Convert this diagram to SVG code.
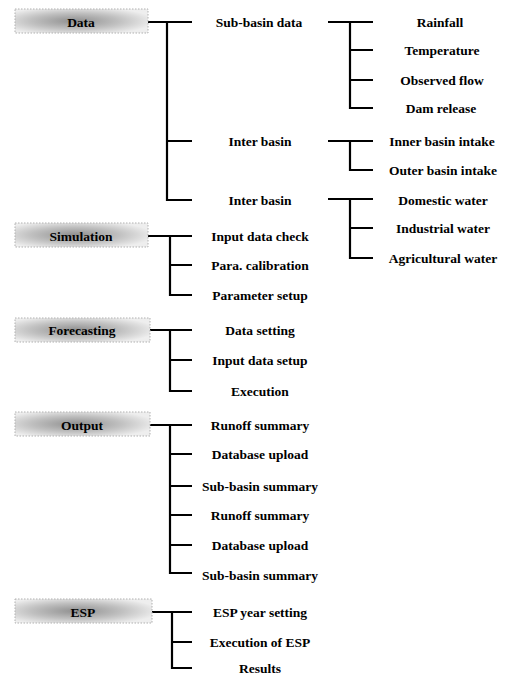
<svg xmlns="http://www.w3.org/2000/svg" width="506" height="675" viewBox="0 0 506 675">
<style>
text{font-family:"Liberation Serif","Times New Roman",serif;font-weight:bold;font-size:13.5px;text-anchor:middle;dominant-baseline:central;fill:#000}
.box{fill:url(#g);stroke:#b0b0b0;stroke-width:1;stroke-dasharray:1.5 1.5}
.bt{font-size:13.5px}
#connectors path{fill:none;stroke:#000;stroke-width:2.2}
</style>
<defs>
<radialGradient id="g" cx="0.45" cy="0.5" r="0.6">
<stop offset="0" stop-color="#8f8f8f"/>
<stop offset="0.55" stop-color="#c0c0c0"/>
<stop offset="1" stop-color="#eeeeee"/>
</radialGradient>
</defs>
<rect width="506" height="675" fill="#fff"/>
<g id="connectors">
<path d="M148 22H192M167 22V200H192M167 141H192"/>
<path d="M328 22H373M350 22V108H373M350 50H373M350 80H373"/>
<path d="M328 141H373M350 141V170H373"/>
<path d="M328 199H373M350 199V258H373M350 228H373"/>
<path d="M148 236H192M170 236V295H192M170 265H192"/>
<path d="M150 330H192M170 330V391H192M170 360H192"/>
<path d="M150 425H192M170 425V573H192M170 454H192M170 486H192M170 515H192M170 545H192"/>
<path d="M152 612H192M172 612V668H192M172 642H192"/>
</g>
<g id="n-data"><rect class="box" x="15" y="9" width="133" height="24"/><text class="bt" x="81" y="22">Data</text></g>
<g id="n-sim"><rect class="box" x="15" y="223" width="133" height="24"/><text class="bt" x="81" y="236">Simulation</text></g>
<g id="n-fore"><rect class="box" x="15" y="318" width="135" height="24"/><text class="bt" x="82" y="330">Forecasting</text></g>
<g id="n-out"><rect class="box" x="15" y="412" width="135" height="24"/><text class="bt" x="82" y="425">Output</text></g>
<g id="n-esp"><rect class="box" x="15" y="599" width="137" height="24"/><text class="bt" x="83" y="612">ESP</text></g>
<g id="n-subbasin"><text x="259" y="22">Sub-basin data</text></g>
<g id="n-inter1"><text x="260" y="141">Inter basin</text></g>
<g id="n-inter2"><text x="260" y="200">Inter basin</text></g>
<g id="n-rain"><text x="440" y="22">Rainfall</text></g>
<g id="n-temp"><text x="442" y="50">Temperature</text></g>
<g id="n-obs"><text x="442" y="80">Observed flow</text></g>
<g id="n-dam"><text x="441" y="108">Dam release</text></g>
<g id="n-inner"><text x="442" y="141">Inner basin intake</text></g>
<g id="n-outer"><text x="443" y="170">Outer basin intake</text></g>
<g id="n-dom"><text x="443" y="200">Domestic water</text></g>
<g id="n-ind"><text x="443" y="228">Industrial water</text></g>
<g id="n-agr"><text x="443" y="258">Agricultural water</text></g>
<g id="n-idc"><text x="260" y="236">Input data check</text></g>
<g id="n-para"><text x="260" y="265">Para. calibration</text></g>
<g id="n-ps"><text x="260" y="295">Parameter setup</text></g>
<g id="n-ds"><text x="260" y="330">Data setting</text></g>
<g id="n-ids"><text x="260" y="360">Input data setup</text></g>
<g id="n-exec"><text x="260" y="391">Execution</text></g>
<g id="n-rs1"><text x="260" y="425">Runoff summary</text></g>
<g id="n-du1"><text x="260" y="454">Database upload</text></g>
<g id="n-sbs1"><text x="260" y="486">Sub-basin summary</text></g>
<g id="n-rs2"><text x="260" y="515">Runoff summary</text></g>
<g id="n-du2"><text x="260" y="545">Database upload</text></g>
<g id="n-sbs2"><text x="260" y="575">Sub-basin summary</text></g>
<g id="n-espy"><text x="260" y="612">ESP year setting</text></g>
<g id="n-espe"><text x="260" y="642">Execution of ESP</text></g>
<g id="n-res"><text x="260" y="668">Results</text></g>
</svg>
